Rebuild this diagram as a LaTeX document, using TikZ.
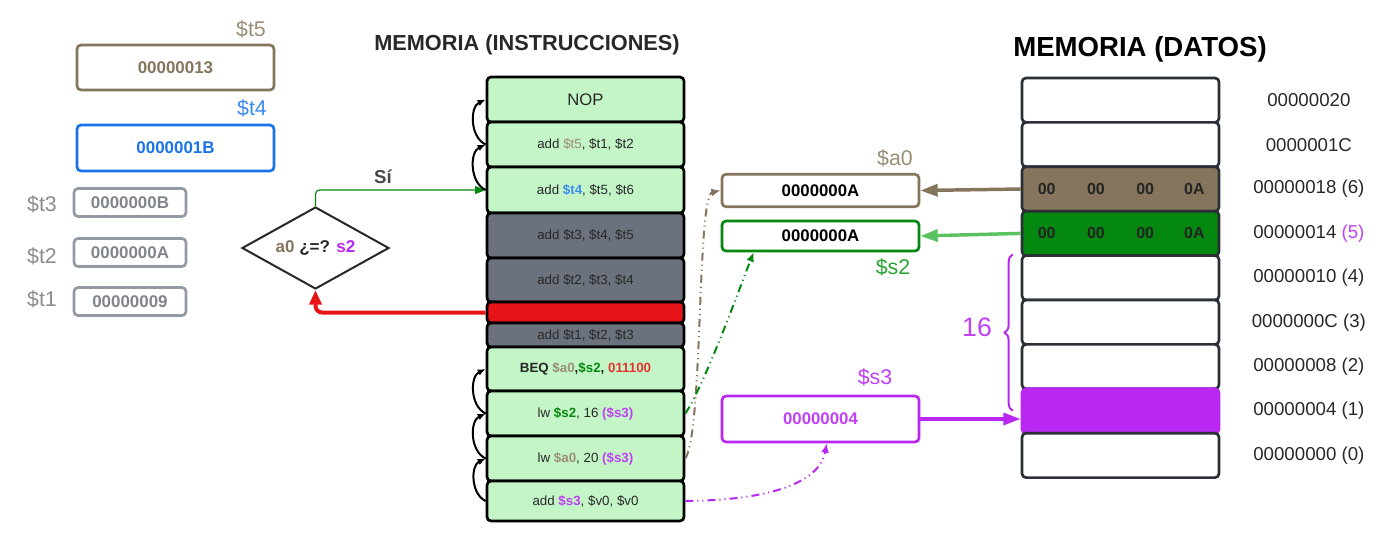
\documentclass[tikz,border=0pt]{standalone}
\usepackage{fontspec}
\setmainfont{Liberation Sans}
\usetikzlibrary{arrows.meta,shapes.geometric,decorations.pathreplacing}

\definecolor{cafe}{RGB}{133,117,92}
\definecolor{cafeclaro}{RGB}{155,142,118}
\definecolor{azul}{RGB}{26,115,232}
\definecolor{azulclaro}{RGB}{60,140,240}
\definecolor{grisreg}{RGB}{148,154,164}
\definecolor{gristxt}{RGB}{128,132,140}
\definecolor{grisetq}{RGB}{140,140,140}
\definecolor{verdeclaro}{RGB}{195,245,199}
\definecolor{gris}{RGB}{107,114,126}
\definecolor{rojo}{RGB}{230,20,22}
\definecolor{rojotxt}{RGB}{232,50,45}
\definecolor{verdeosc}{RGB}{4,136,16}
\definecolor{verdeetq}{RGB}{40,165,50}
\definecolor{verdeflecha}{RGB}{90,195,95}
\definecolor{morado}{RGB}{185,40,240}
\definecolor{moradotxt}{RGB}{192,64,245}
\definecolor{textoosc}{RGB}{40,40,40}
\definecolor{borde}{RGB}{43,47,54}

\tikzset{every picture/.style={line width=0.75pt}}
\tikzset{
  instr/.style={draw=black, line width=2pt, rounded corners=3pt, fill=verdeclaro, minimum width=147.75pt, inner sep=0pt, text=textoosc, font=\fontsize{10}{12}\selectfont},
  instrgris/.style={instr, fill=gris},
  reg/.style={draw, line width=2pt, rounded corners=3pt, fill=white, minimum width=147.75pt, minimum height=33.75pt, inner sep=0pt, font=\bfseries\fontsize{12.7}{15}\selectfont},
  regchico/.style={reg, draw=grisreg, text=gristxt, minimum width=84pt, minimum height=21pt},
  etiq/.style={inner sep=0pt, font=\fontsize{16}{19}\selectfont},
  drow/.style={draw=borde, line width=2pt, rounded corners=3pt, fill=white, minimum width=147.75pt, minimum height=33.3pt, inner sep=0pt},
  dblanco/.style={},
  dcafe/.style={fill=cafe},
  dverde/.style={fill=verdeosc},
  dmorado/.style={fill=morado, draw=morado},
  celda/.style={inner sep=0pt, text=textoosc!90!black, font=\bfseries\fontsize{12}{14}\selectfont},
  dir/.style={inner sep=0pt, text=textoosc, font=\fontsize{14}{17}\selectfont},
  salto/.style={-{Latex[length=6pt,width=5pt]}, line width=1.5pt, black, bend right=65},
  gruesa/.style={-{Triangle[length=13pt,width=9pt]}, line width=2.6pt},
  puntoraya/.style={-{Latex[length=7pt,width=6pt]}, dash pattern=on 6pt off 3pt on 0.8pt off 3pt on 0.8pt off 3pt, line width=1.5pt},
}

\begin{document}
\begin{tikzpicture}[x=0.75pt,y=0.75pt,yscale=-1,xscale=1]
\useasboundingbox (0,0) rectangle (1392,544);

% Titles
\node[inner sep=0pt, text=textoosc, font=\bfseries\fontsize{16.3}{19}\selectfont] (titins) at (527,45) {MEMORIA (INSTRUCCIONES)};
\node[inner sep=0pt, text=black, font=\bfseries\fontsize{20.7}{24}\selectfont] (titdat) at (1140,49) {MEMORIA (DATOS)};

%Shape: Registers (left)
\node[reg, draw=cafe, text=cafe] (t5) at (175.5,67.5) {00000013};
\node[etiq, text=cafeclaro] (et5) at (251,29) {\$t5};
\node[reg, draw=azul, text=azul, minimum height=34.5pt] (t4) at (175.5,148) {0000001B};
\node[etiq, text=azulclaro] (et4) at (252,108) {\$t4};
\node[regchico] (t3) at (130,202.5) {0000000B};
\node[etiq, text=grisetq] (et3) at (42,204) {\$t3};
\node[regchico] (t2) at (130,252.5) {0000000A};
\node[etiq, text=grisetq] (et2) at (42,256) {\$t2};
\node[regchico] (t1) at (130,301.5) {00000009};
\node[etiq, text=grisetq] (et1) at (42,299) {\$t1};

%Shape: Diamond
\node[diamond, draw=textoosc, line width=1.5pt, aspect=1.8, minimum width=110.25pt, minimum height=61.5pt, inner sep=1pt, font=\bfseries\fontsize{12.8}{15}\selectfont] (cmp) at (315.5,248) {\textcolor{cafe}{a0} \textcolor{textoosc}{¿=?} \textcolor{morado}{s2}};
\node[inner sep=0pt, text=textoosc!85, font=\bfseries\fontsize{14}{17}\selectfont] (si) at (383,177) {Sí};

%Shape: Instruction memory
\node[instr, minimum height=33.75pt, font=\fontsize{12.5}{15}\selectfont] (nop) at (585.5,99.5) {NOP};
\node[instr, minimum height=33.75pt] (it5) at (585.5,144.5) {add \textcolor{cafeclaro}{\$t5}, \$t1, \$t2};
\node[instr, minimum height=34.5pt] (it4) at (585.5,190) {add \textcolor{azulclaro}{\textbf{\$t4}}, \$t5, \$t6};
\node[instrgris, minimum height=33.75pt] (it3) at (585.5,235.5) {add \$t3, \$t4, \$t5};
\node[instrgris, minimum height=33pt] (it2) at (585.5,280) {add \$t2, \$t3, \$t4};
\node[instr, fill=rojo, minimum height=15.75pt] (rojobox) at (585.5,312.5) {};
\node[instrgris, minimum height=18pt] (it1) at (585.5,335) {add \$t1, \$t2, \$t3};
\node[instr, minimum height=33pt, font=\bfseries\fontsize{10}{12}\selectfont] (beq) at (585.5,369) {BEQ \textcolor{cafeclaro}{\$a0},\textcolor{verdeosc}{\$s2}, \textcolor{rojotxt}{011100}};
\node[instr, minimum height=33.75pt] (lws2) at (585.5,413.5) {lw \textcolor{verdeosc}{\textbf{\$s2}}, 16 \textcolor{moradotxt}{\textbf{(\$s3)}}};
\node[instr, minimum height=33.75pt] (lwa0) at (585.5,458.5) {lw \textcolor{cafeclaro}{\textbf{\$a0}}, 20 \textcolor{moradotxt}{\textbf{(\$s3)}}};
\node[instr, minimum height=30pt] (adds3) at (585.5,501) {add \textcolor{moradotxt}{\textbf{\$s3}}, \$v0, \$v0};

%Shape: Registers (middle)
\node[reg, draw=cafe, text=black, minimum height=24.3pt, font=\bfseries\fontsize{12.6}{15}\selectfont] (a0reg) at (820.5,190.5) {0000000A};
\node[etiq, text=cafeclaro] (ea0) at (895,158) {\$a0};
\node[reg, draw=verdeosc, text=black, minimum height=22.5pt, font=\bfseries\fontsize{12.6}{15}\selectfont] (s2reg) at (820.5,236) {0000000A};
\node[etiq, text=verdeetq] (es2) at (893,267) {\$s2};
\node[reg, draw=morado, text=moradotxt, minimum height=34.5pt, font=\bfseries\fontsize{12.6}{15}\selectfont] (s3reg) at (820.5,419) {00000004};
\node[etiq, text=moradotxt] (es3) at (875,377) {\$s3};

%Shape: Data memory
\foreach \a/\s [count=\i from 0] in {20/dblanco,1C/dblanco,18/dcafe,14/dverde,10/dblanco,0C/dblanco,08/dblanco,04/dmorado,00/dblanco}
  \node[drow,\s] (d\a) at (1120.5,{100.2+44.4*\i}) {};
\foreach \v [count=\i] in {00,00,00,0A} {
  \node[celda] (c18\i) at ({1022+49.25*\i-24.6},189) {\v};
  \node[celda] (c14\i) at ({1022+49.25*\i-24.6},233.4) {\v};
}
% Text Node
\foreach \a/\t in {20/00000020,1C/0000001C,18/00000018 (6),14/00000014 \textcolor{moradotxt}{(5)},10/00000010 (4),0C/0000000C (3),08/00000008 (2),04/00000004 (1),00/00000000 (0)}
  \node[dir] (l\a) at ([xshift=66.4pt]d\a.east) {\t};

% Brace
\draw[morado, line width=1.5pt, decorate, decoration={brace, amplitude=6pt}] ([xshift=-6pt]d04.west) -- ([xshift=-6pt]d10.north west);
\node[inner sep=0pt, text=moradotxt, font=\fontsize{20}{24}\selectfont] (dieciseis) at (977,327) {16};

%Straight Lines
\draw[gruesa, cafe] (d18.west) -- (a0reg.east);
\draw[gruesa, verdeflecha] (d14.west) -- (s2reg.east);
\draw[gruesa, morado] (s3reg.east) -- (s3reg.east -| d04.west);
\draw[-{Triangle[length=11pt,width=9pt]}, rojo, line width=3pt, rounded corners=5pt] (rojobox.west) -| (cmp.south);
\draw[-{Triangle[length=8pt,width=6pt]}, verdeosc, line width=0.9pt, rounded corners=3pt] (cmp.north) |- (it4.west);

% Curved arrows
\draw[salto] (it4.west) to (it5.west);
\draw[salto] (it5.west) to (nop.west);
\draw[salto] (adds3.west) to (lwa0.west);
\draw[salto] (lwa0.west) to (lws2.west);
\draw[salto] (lws2.west) to (beq.west);

% Dash-dot arrows
\draw[puntoraya, cafe] (lwa0.east) .. controls +(18,-28) and +(-24,5) .. (a0reg.west);
\draw[puntoraya, verdeosc] (lws2.east) .. controls +(20,-30) and +(-10,25) .. ([xshift=24.75pt]s2reg.south west);
\draw[puntoraya, morado] (adds3.east) .. controls +(96,-1) and +(-6,35) .. ([xshift=79.5pt]s3reg.south west);

\end{tikzpicture}
\end{document}
